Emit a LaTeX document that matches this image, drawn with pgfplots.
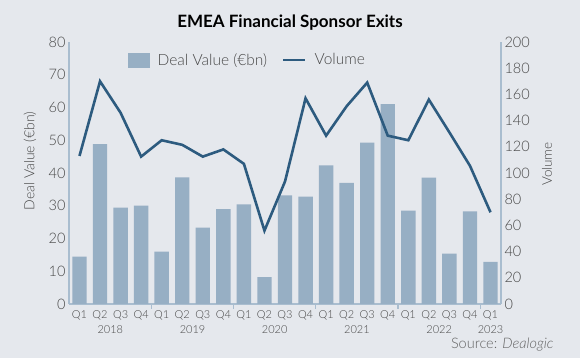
\documentclass[border=0pt]{standalone}
\usepackage{pgfplots}
\pgfplotsset{compat=1.18}
\usepackage{fontspec}
\setmainfont{Lato}
\IfFontExistsTF{Lato Light}{\newfontfamily\light{Lato Light}}{\newfontfamily\light{Lato}}
\definecolor{bg}{HTML}{E5E8ED}
\definecolor{barc}{HTML}{97AFC4}
\definecolor{linec}{HTML}{2D5B7F}
\definecolor{axc}{HTML}{A9BDCF}
\definecolor{txt}{HTML}{484848}
\pgfplotsset{myax/.style={
  scale only axis, width=432pt, height=262pt,
  at={(69pt,54pt)}, anchor=south west,
  xmin=-0.51, xmax=20.51, clip=false,
  axis line style={axc, line width=1.3pt},
  tick style={axc, line width=1.3pt},
  major tick length=0pt,
  /pgf/number format/assume math mode=true,
  ticklabel style={font=\light\fontsize{14.5}{17}\selectfont, text=txt},
}}
\begin{document}
\begin{tikzpicture}[x=1pt,y=1pt]
\fill[bg] (0,0) rectangle (580,358);
\node[font=\bfseries\fontsize{17}{20}\selectfont] at (290,335) {EMEA Financial Sponsor Exits};
\node[font=\light\fontsize{14}{17}\selectfont, text=txt, rotate=90] at (30,197) {Deal Value (€bn)};
\node[font=\light\fontsize{13.5}{16}\selectfont, text=txt, rotate=90] at (547,194) {Volume};
\node[font=\light\fontsize{14.5}{17}\selectfont, text=txt!85!white, anchor=east] at (557,13) {Source: \textit{Dealogic}};
\begin{axis}[myax,
  ymin=0, ymax=80, ytick={0,10,...,80},
  axis y line*=left, axis x line*=bottom,
  xtick={0,...,20},
  xticklabels={Q1,Q2,Q3,Q4,Q1,Q2,Q3,Q4,Q1,Q2,Q3,Q4,Q1,Q2,Q3,Q4,Q1,Q2,Q3,Q4,Q1},
  xticklabel style={font=\light\fontsize{11}{13}\selectfont, yshift=-3pt},
  extra x ticks={3.5,7.5,11.5,15.5,19.5},
  extra x tick labels={},
  extra x tick style={major tick length=5pt, tick align=outside},
]
\addplot[ybar, bar width=14.4pt, fill=barc, draw=none] coordinates {
(0,14.5) (1,48.8) (2,29.4) (3,30.0) (4,16.0) (5,38.7) (6,23.3) (7,29.0)
(8,30.4) (9,8.2) (10,33.2) (11,32.8) (12,42.3) (13,37.0) (14,49.3) (15,61.0)
(16,28.5) (17,38.6) (18,15.4) (19,28.3) (20,12.9)};
\foreach \p/\y in {1.5/2018,5.5/2019,9.5/2020,13.5/2021,17.5/2022,20/2023}{
  \edef\tmp{\noexpand\node[font=\noexpand\light\noexpand\fontsize{11}{13}\noexpand\selectfont, text=txt, yshift=-26pt] at (axis cs:\p,0) {\y};}\tmp
}
\end{axis}
\begin{axis}[myax,
  ymin=0, ymax=200, ytick={0,20,...,200},
  axis y line*=right, hide x axis,
  legend style={draw=none, fill=none, inner sep=0pt, at={(0.1366,0.931)}, anchor=west,
    font=\light\fontsize{15.5}{18}\selectfont, text=txt, legend columns=2,
    /tikz/every even column/.append style={column sep=13pt}},
]
\addlegendimage{legend image code/.code={\fill[barc] (0pt,-7pt) rectangle (21pt,7pt);}}
\addlegendentry{\hspace{6pt}Deal Value (€bn)}
\addplot[linec, line width=2.6pt, legend image code/.code={\draw[linec, line width=2.6pt] (0pt,0pt) -- (22pt,0pt);}] coordinates {
(0,113) (1,170) (2,146) (3,112.5) (4,125) (5,121.5) (6,112.5) (7,118)
(8,107) (9,56) (10,93.5) (11,157) (12,128.5) (13,151) (14,169) (15,128.5)
(16,125) (17,156) (18,131) (19,105.5) (20,70)};
\addlegendentry{\hspace{6pt}Volume}
\end{axis}
\end{tikzpicture}
\end{document}
